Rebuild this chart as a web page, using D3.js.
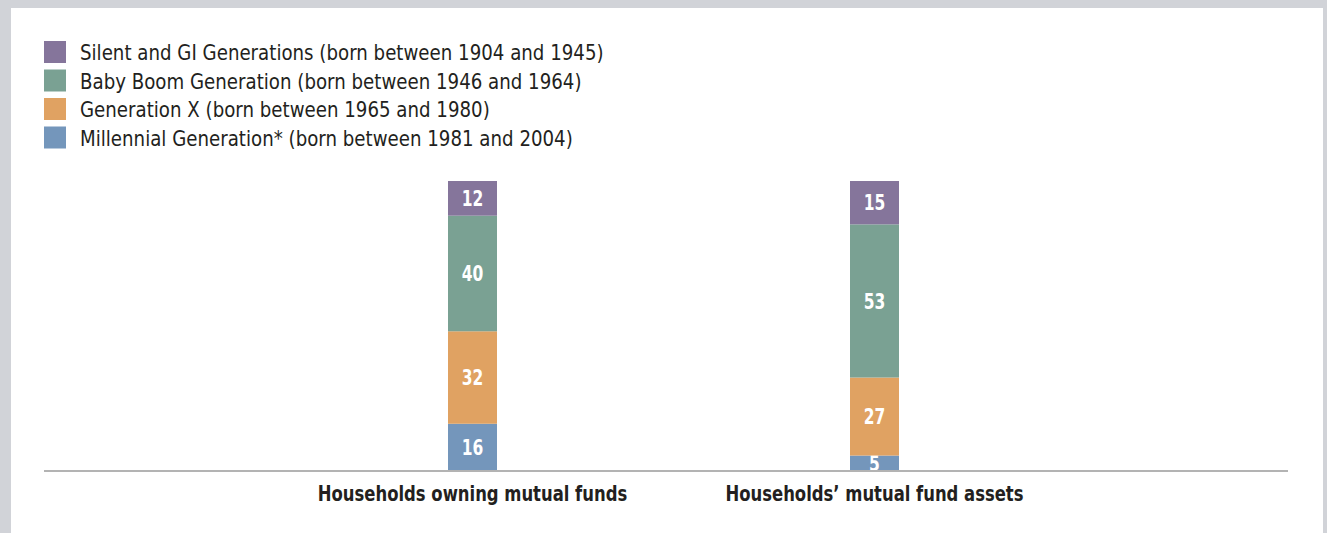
<!DOCTYPE html>
<html>
<head>
<meta charset="utf-8">
<script src="https://cdn.jsdelivr.net/npm/d3@7"></script>
<style>
  html, body { margin: 0; padding: 0; background: #d1d3d8; }
  #my_dataviz { position: absolute; left: 11px; top: 8px; width: 1312px; height: 525px; background: #ffffff; }
  svg { position: absolute; left: 0; top: 0; }
  text { font-family: "DejaVu Sans Condensed", "DejaVu Sans", sans-serif; }
</style>
</head>
<body>
<div id="my_dataviz"></div>
<script>
// Chart data
var categories = ['Households owning mutual funds', 'Households\u2019 mutual fund assets'];
var seriesKeys = ['millennial', 'genX', 'boom', 'silent'];
var seriesNames = {
    silent: 'Silent and GI Generations (born between 1904 and 1945)',
    boom: 'Baby Boom Generation (born between 1946 and 1964)',
    genX: 'Generation X (born between 1965 and 1980)',
    millennial: 'Millennial Generation* (born between 1981 and 2004)'
};
var millennial = [16, 5];
var genX = [32, 27];
var boom = [40, 53];
var silent = [12, 15];

var colors = { silent: '#85759b', boom: '#7aa193', genX: '#e0a262', millennial: '#7496bb' };

// page coordinates are offset by the panel position (11, 8)
var ox = 11, oy = 8;

var svg = d3.select('#my_dataviz')
    .append('svg')
    .attr('width', 1312)
    .attr('height', 525)
    .append('g')
    .attr('transform', 'translate(' + (-ox) + ',' + (-oy) + ')');

var table = categories.map(function (c, i) {
    return { cat: c, millennial: millennial[i], genX: genX[i], boom: boom[i], silent: silent[i] };
});

var x = d3.scalePoint().domain(categories).range([472.5, 874.5]);
var y = d3.scaleLinear().domain([0, 100]).range([470, 181]);
var barW = 49;

var stacked = d3.stack().keys(seriesKeys)(table);

var layer = svg.selectAll('g.layer')
    .data(stacked)
    .enter()
    .append('g')
    .attr('class', 'layer')
    .attr('fill', function (d) { return colors[d.key]; });

layer.selectAll('rect')
    .data(function (d) { return d; })
    .enter()
    .append('rect')
    .attr('x', function (d) { return x(d.data.cat) - barW / 2; })
    .attr('y', function (d) { return y(d[1]); })
    .attr('width', barW)
    .attr('height', function (d) { return y(d[0]) - y(d[1]); });

// value labels (font squeezed horizontally to look condensed)
layer.selectAll('text')
    .data(function (d) { return d; })
    .enter()
    .append('text')
    .attr('transform', function (d) {
        return 'translate(' + x(d.data.cat) + ',' + ((y(d[0]) + y(d[1])) / 2) + ') scale(0.82,1)';
    })
    .attr('dy', '0.37em')
    .attr('text-anchor', 'middle')
    .attr('fill', '#ffffff')
    .attr('font-size', '21px')
    .attr('font-weight', 'bold')
    .text(function (d) { return d[1] - d[0]; });

// baseline
svg.append('line')
    .attr('x1', 44).attr('x2', 1288)
    .attr('y1', y(0) + 1).attr('y2', y(0) + 1)
    .attr('stroke', '#b3b3b3')
    .attr('stroke-width', 2);

// category labels
svg.selectAll('text.cat')
    .data(categories)
    .enter()
    .append('text')
    .attr('class', 'cat')
    .attr('transform', function (d) { return 'translate(' + x(d) + ',501) scale(0.87,1)'; })
    .attr('text-anchor', 'middle')
    .attr('fill', '#231f20')
    .attr('font-size', '21px')
    .attr('font-weight', 'bold')
    .text(function (d) { return d; });

// legend, top to bottom
var legendKeys = seriesKeys.slice().reverse();
var legend = svg.selectAll('g.legend')
    .data(legendKeys)
    .enter()
    .append('g')
    .attr('class', 'legend')
    .attr('transform', function (d, i) { return 'translate(44,' + (41 + i * 28.5) + ')'; });

legend.append('rect')
    .attr('width', 22)
    .attr('height', 22)
    .attr('fill', function (d) { return colors[d]; });

legend.append('text')
    .attr('transform', 'translate(36,19) scale(0.92,1)')
    .attr('fill', '#231f20')
    .attr('font-size', '22px')
    .text(function (d) { return seriesNames[d]; });
</script>
</body>
</html>
